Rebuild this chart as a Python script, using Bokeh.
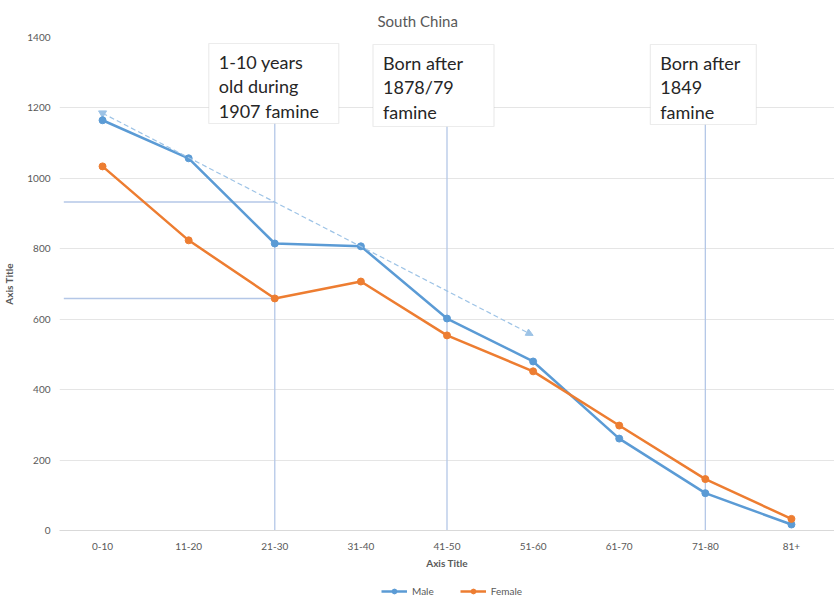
from bokeh.plotting import figure
from bokeh.layouts import column
from bokeh.models import (Range1d, FixedTicker, BoxAnnotation, Label, Arrow,
                          NormalHead, Legend, LegendItem)
from bokeh.embed import file_html
from bokeh.resources import INLINE

# ---------------- data ----------------
age_groups = ["0-10", "11-20", "21-30", "31-40", "41-50", "51-60", "61-70", "71-80", "81+"]
male = [1165, 1057, 815, 807, 602, 480, 261, 106, 17]
female = [1034, 824, 659, 707, 554, 452, 298, 146, 33]
y_ticks = [0, 200, 400, 600, 800, 1000, 1200, 1400]

# dashed trend arrow (male)
trend_groups = ["0-10", "51-60"]
trend_values = [1185, 554]

# annotation call-outs: (age group, text)
callouts = [
    ("21-30", "1-10 years\nold during\n1907 famine"),
    ("41-50", "Born after\n1878/79\nfamine"),
    ("71-80", "Born after\n1849\nfamine"),
]

# ---------------- layout ----------------
W, H_TOTAL = 834, 598
LEG_H = 23
H = H_TOTAL - LEG_H
FRAME_BOTTOM = 530
L, R, T = 59, 0, 37
B = H - FRAME_BOTTOM
frame_w = W - L - R
frame_h = FRAME_BOTTOM - T
YMAX = 1400
px_x = frame_w / len(age_groups)       # pixels per category
px_y = frame_h / YMAX                  # pixels per unit

xs = list(range(len(age_groups)))
FONT = "Lato"
GREY = "#595959"
MALE_C = "#5b9bd5"
FEMALE_C = "#ed7d31"
ANNO_C = "#b4c7e7"

p = figure(width=W, height=H, output_backend="svg", toolbar_location=None,
           x_range=Range1d(-0.5, len(age_groups) - 0.5), y_range=Range1d(0, YMAX),
           min_border_left=L, min_border_right=R, min_border_top=T, min_border_bottom=B)
p.outline_line_color = None
p.background_fill_color = "white"
p.border_fill_color = "white"

p.title.text = "South China"
p.title.align = "left"
p.title.offset = 318
p.title.standoff = 16
p.title.text_font = FONT
p.title.text_font_size = "15px"
p.title.text_font_style = "normal"
p.title.text_color = GREY

# axes
p.xaxis.ticker = FixedTicker(ticks=xs)
p.xaxis.major_label_overrides = {i: g for i, g in enumerate(age_groups)}
p.yaxis.ticker = FixedTicker(ticks=y_ticks)
for ax in (p.xaxis[0], p.yaxis[0]):
    ax.major_tick_line_color = None
    ax.minor_tick_line_color = None
    ax.major_tick_out = 0
    ax.major_tick_in = 0
    ax.minor_tick_out = 0
    ax.major_label_text_font = FONT
    ax.major_label_text_font_size = "10px"
    ax.major_label_text_color = GREY
    ax.axis_label = "Axis Title"
    ax.axis_label_text_font = FONT
    ax.axis_label_text_font_size = "10px"
    ax.axis_label_text_font_style = "bold"
    ax.axis_label_text_color = GREY
p.xaxis.axis_line_color = "#d9d9d9"
p.yaxis.axis_line_color = None
p.xaxis.major_label_standoff = 12
p.xaxis.axis_label_standoff = 4
p.yaxis.major_label_standoff = 9
p.yaxis.axis_label_standoff = 9

p.xgrid.grid_line_color = None
p.ygrid.grid_line_color = "#e5e5e5"
p.ygrid.grid_line_width = 1

# annotation lines (vertical + horizontal)
box_specs = {  # pixel offsets of box relative to its vertical line: (left, right, top, bottom)
    "21-30": (-66, 64, 43, 123),
    "41-50": (-74, 47, 44, 126),
    "71-80": (-55, 51, 44, 124),
}

trend_x = [age_groups.index(g) for g in trend_groups]
slope = (trend_values[1] - trend_values[0]) / (trend_x[1] - trend_x[0])
i21 = age_groups.index("21-30")
trend_at_21 = trend_values[0] + slope * (i21 - trend_x[0])

p.segment(x0=[-0.45, -0.45], y0=[trend_at_21, female[i21]],
          x1=[i21, i21], y1=[trend_at_21, female[i21]],
          line_color=ANNO_C, line_width=1.5)

for g, txt in callouts:
    xi = age_groups.index(g)
    lo, ro, tp, bt = box_specs[g]
    top_v = (FRAME_BOTTOM - tp) / px_y
    bot_v = (FRAME_BOTTOM - bt) / px_y
    p.segment(x0=[xi], y0=[0], x1=[xi], y1=[bot_v], line_color=ANNO_C, line_width=1.3)
    p.add_layout(BoxAnnotation(left=xi + lo / px_x, right=xi + ro / px_x,
                               top=top_v, bottom=bot_v,
                               fill_color="white", fill_alpha=1,
                               line_color="#bfbfbf", line_width=1.2, level="overlay"))
    p.add_layout(Label(x=xi + lo / px_x, y=top_v, x_offset=10, y_offset=-7,
                       text=txt, text_font=FONT, text_font_size="18px",
                       text_color="#262626", text_align="left", text_baseline="top",
                       text_line_height=1.13, level="overlay"))

# dashed trend arrow
p.add_layout(Arrow(x_start=trend_x[0], y_start=trend_values[0],
                   x_end=trend_x[1], y_end=trend_values[1],
                   line_color="#9dc3e6", line_width=1.2, line_dash="5 3",
                   end=NormalHead(size=7, fill_color="#9dc3e6", line_color="#9dc3e6")))
p.scatter([trend_x[0]], [trend_values[0]], marker="inverted_triangle", size=8,
          color="#9dc3e6")

# series
p.line(xs, male, line_color=MALE_C, line_width=2.5)
p.scatter(xs, male, size=7, color=MALE_C)
p.line(xs, female, line_color=FEMALE_C, line_width=2.5)
p.scatter(xs, female, size=7, color=FEMALE_C)

# ---------------- legend strip (same series, range chosen so only the legend shows) ----------------
lf = figure(width=W, height=LEG_H, output_backend="svg", toolbar_location=None,
            x_axis_location=None, y_axis_location=None,
            x_range=Range1d(-0.5, len(age_groups) - 0.5), y_range=Range1d(-20, -10),
            min_border_left=L, min_border_right=0, min_border_top=0, min_border_bottom=0)
lf.outline_line_color = None
lf.grid.visible = False
lml = lf.line(xs, male, line_color=MALE_C, line_width=2.5)
lms = lf.scatter(xs, male, size=7, color=MALE_C)
lfl = lf.line(xs, female, line_color=FEMALE_C, line_width=2.5)
lfs = lf.scatter(xs, female, size=7, color=FEMALE_C)
legend = Legend(items=[LegendItem(label="Male", renderers=[lml, lms]),
                       LegendItem(label="Female", renderers=[lfl, lfs])],
                orientation="horizontal", location=(381 - L, 1),
                label_text_font=FONT, label_text_font_size="10px",
                label_text_color=GREY, glyph_width=26, glyph_height=12,
                label_standoff=5, spacing=26, padding=0, margin=0,
                border_line_color=None, background_fill_alpha=0)
lf.add_layout(legend, "center")

open("out.html", "w").write(file_html(column(p, lf, spacing=0), INLINE))
